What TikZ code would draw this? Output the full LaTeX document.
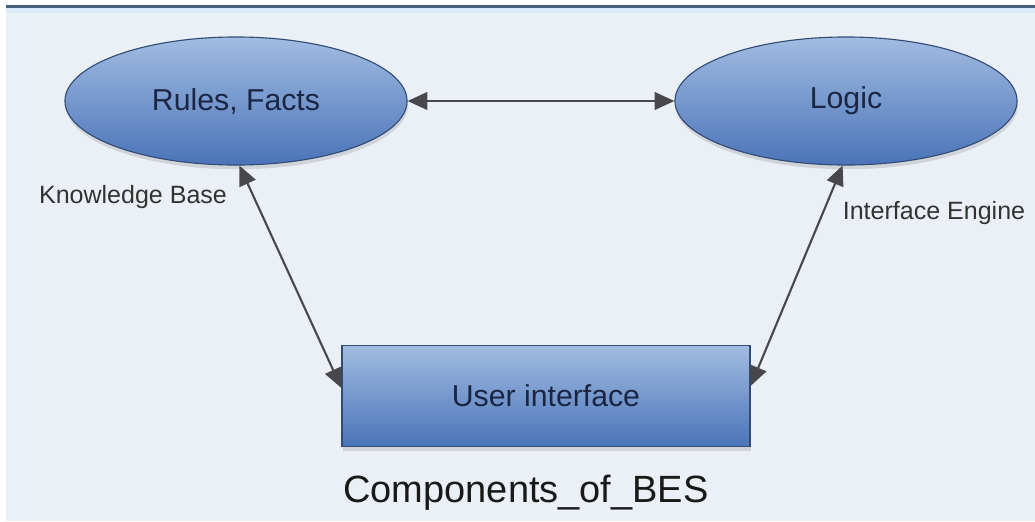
\documentclass[tikz,border=0pt]{standalone}
\usepackage{fontspec}
\setmainfont{Liberation Sans}
\usetikzlibrary{arrows.meta,calc,shadows,shapes.geometric}
\definecolor{bgblue}{RGB}{235,240,246}
\definecolor{topline}{RGB}{72,96,126}
\definecolor{topglow}{RGB}{218,234,250}
\definecolor{shapetop}{RGB}{162,188,226}
\definecolor{shapebot}{RGB}{74,116,184}
\definecolor{shapeedge}{RGB}{50,76,118}
\definecolor{shapetext}{RGB}{26,38,68}
\definecolor{arrowgray}{RGB}{72,72,76}

\begin{document}
\begin{tikzpicture}[x=0.025cm, y=-0.025cm,
    comp/.style={draw=shapeedge, line width=0.8pt, top color=shapetop, bottom color=shapebot,
      text=shapetext, font=\fontsize{21.5}{24}\selectfont,
      drop shadow={shadow xshift=0.6pt, shadow yshift=-3pt, opacity=0.25}},
    blob/.style={comp, ellipse, minimum width=8.55cm, minimum height=3.2cm},
    box/.style={comp, rectangle, minimum width=10.2cm, minimum height=2.525cm},
    link/.style={arrowgray, line width=1.5pt, {Triangle[length=14pt,width=12.5pt]}-{Triangle[length=14pt,width=12.5pt]}},
    note/.style={text=black!80, font=\fontsize{17.8}{20}\selectfont}]
    % the canvas
    \useasboundingbox (0,0) rectangle (1035,521);
    \fill[bgblue] (0,0) rectangle (1035,521);
    \fill[topglow] (0,8) rectangle (1035,13);
    \fill[white] (0,0) rectangle (1035,5);
    \fill[white] (0,0) rectangle (6,521);
    \fill[topline] (6,5) rectangle (1035,8);

    % the components
    \node[blob] (rules) at (236,101) {Rules, Facts};
    \node[blob] (logic) at (846,101) {Logic};
    \node[box] (ui) at (546,396) {User interface};

    % the texts
    \node[note] (kb) at (133,197) {Knowledge Base};
    \node[note] (ie) at (934,213) {Interface Engine};
    \node[font=\fontsize{27}{30}\selectfont, text=black!90] (title) at (526,493) {Components\_of\_BES};

    % draw the arrows
    \draw[link] (rules) -- (logic);
    \draw[link] (rules.-87) -- ($(ui.west)+(0,-8)$);
    \draw[link] (logic.-93) -- ($(ui.east)+(0,-10)$);
\end{tikzpicture}
\end{document}
